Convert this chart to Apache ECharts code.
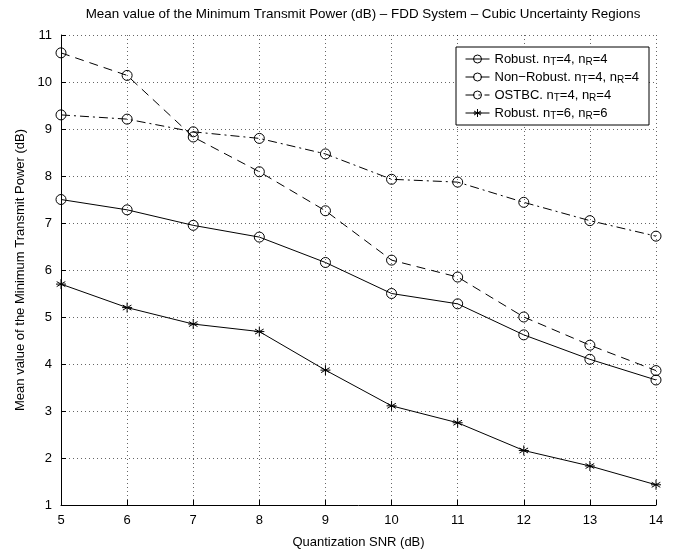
<!DOCTYPE html>
<html>
<head>
<meta charset="utf-8">
<script src="https://cdn.jsdelivr.net/npm/echarts@6/dist/echarts.min.js"></script>
<style>
  html, body { margin: 0; padding: 0; background: #fff; }
  #chart { width: 690px; height: 557px; }
</style>
</head>
<body>
<div id="chart"></div>
<script>
// Quantization SNR (dB)
const snr = [5, 6, 7, 8, 9, 10, 11, 12, 13, 14];

// Mean minimum transmit power (dB) per scheme
const robust44    = [7.50, 7.28, 6.95, 6.70, 6.16, 5.50, 5.28, 4.62, 4.10, 3.66];
const nonRobust44 = [10.62, 10.14, 8.83, 8.09, 7.26, 6.21, 5.85, 5.00, 4.40, 3.86];
const ostbc44     = [9.30, 9.21, 8.94, 8.80, 8.47, 7.93, 7.87, 7.44, 7.05, 6.72];
const robust66    = [5.70, 5.20, 4.85, 4.69, 3.87, 3.11, 2.75, 2.16, 1.83, 1.43];

const seriesNames = [
  'Robust. n{s|T}=4, n{s|R}=4',
  'Non\u2212Robust. n{s|T}=4, n{s|R}=4',
  'OSTBC. n{s|T}=4, n{s|R}=4',
  'Robust. n{s|T}=6, n{s|R}=6'
];

const FONT = '"Liberation Sans", Arial, Helvetica, sans-serif';
const asterisk = 'path://M5,0L5,10M0.7,2.5L9.3,7.5M0.7,7.5L9.3,2.5M0,5L10,5';

function pairs(ys) { return snr.map((x, i) => [x, ys[i]]); }

function makeSeries(name, ys, dash, symbol, size) {
  return {
    name: name,
    type: 'line',
    data: pairs(ys),
    symbol: symbol,
    symbolSize: size,
    showAllSymbol: true,
    lineStyle: { color: '#000', width: 1, type: dash },
    itemStyle: { color: 'transparent', borderColor: '#000', borderWidth: 1 },
    emphasis: { disabled: true },
    animation: false,
    z: 3
  };
}

const chart = echarts.init(document.getElementById('chart'), null, { renderer: 'canvas' });

chart.setOption({
  backgroundColor: '#fff',
  animation: false,
  textStyle: { fontFamily: FONT, color: '#000' },
  title: {
    text: 'Mean value of the Minimum Transmit Power (dB) \u2013 FDD System \u2013 Cubic Uncertainty Regions',
    left: 358, top: 3, textAlign: 'center',
    textStyle: { fontFamily: FONT, fontSize: 13.4, fontWeight: 'normal', color: '#000' }
  },
  grid: { left: 61, right: 34, top: 35, bottom: 52 },
  legend: {
    orient: 'vertical',
    left: 456, top: 47,
    padding: [4, 10, 4, 9],
    itemGap: 2,
    itemWidth: 24,
    itemHeight: 10,
    borderColor: '#000',
    borderWidth: 1,
    backgroundColor: '#fff',
    selectedMode: false,
    lineStyle: { width: 1 },
    itemStyle: { color: 'transparent', borderColor: '#000', borderWidth: 1 },
    data: seriesNames,
    textStyle: {
      fontFamily: FONT, fontSize: 13, color: '#000', lineHeight: 16,
      rich: {
        s: { fontFamily: FONT, fontSize: 10, color: '#000', verticalAlign: 'bottom', lineHeight: 10 }
      }
    }
  },
  xAxis: {
    type: 'value',
    min: 5, max: 14, interval: 1,
    name: 'Quantization SNR (dB)',
    nameLocation: 'middle',
    nameGap: 31,
    nameTextStyle: { fontFamily: FONT, fontSize: 13, color: '#000' },
    axisLine: { show: true, onZero: false, lineStyle: { color: '#000', width: 1 } },
    axisTick: { show: true, inside: true, length: 5, lineStyle: { color: '#000' } },
    axisLabel: { fontFamily: FONT, fontSize: 13, color: '#000', margin: 9 },
    splitLine: { show: true, lineStyle: { color: '#000', width: 1, type: [1, 3], opacity: 0.6 } }
  },
  yAxis: {
    type: 'value',
    min: 1, max: 11, interval: 1,
    name: 'Mean value of the Minimum Transmit Power (dB)',
    nameLocation: 'middle',
    nameGap: 34,
    nameTextStyle: { fontFamily: FONT, fontSize: 13, color: '#000' },
    axisLine: { show: true, onZero: false, lineStyle: { color: '#000', width: 1 } },
    axisTick: { show: true, inside: true, length: 5, lineStyle: { color: '#000' } },
    axisLabel: { fontFamily: FONT, fontSize: 13, color: '#000', margin: 9 },
    splitLine: { show: true, lineStyle: { color: '#000', width: 1, type: [1, 3], opacity: 0.6 } }
  },
  series: [
    makeSeries(seriesNames[0], robust44, 'solid', 'circle', 10),
    makeSeries(seriesNames[1], nonRobust44, [9, 6], 'circle', 10),
    makeSeries(seriesNames[2], ostbc44, [9, 4, 2, 4], 'circle', 10),
    makeSeries(seriesNames[3], robust66, 'solid', asterisk, 10)
  ]
});
</script>
</body>
</html>
